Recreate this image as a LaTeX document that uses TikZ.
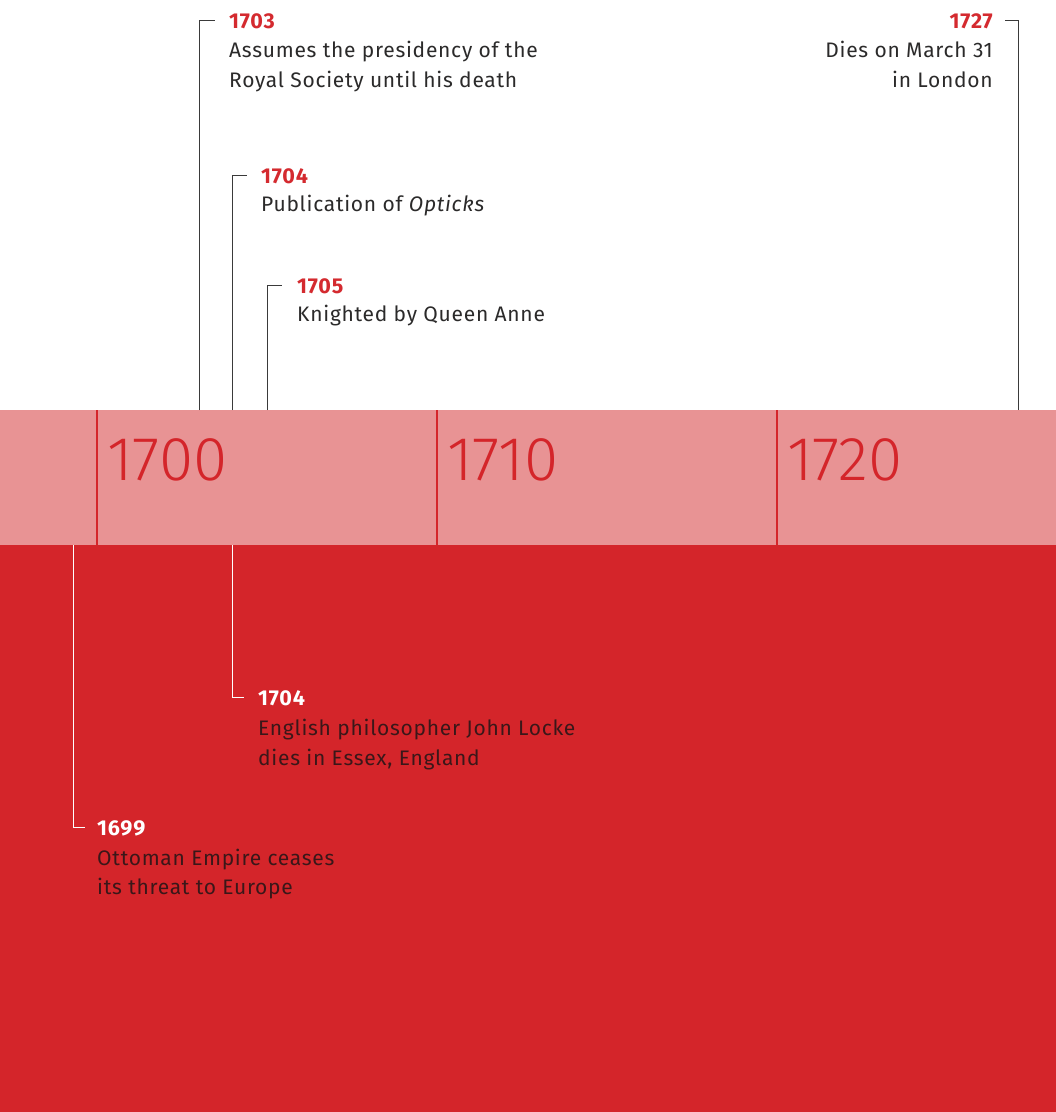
\documentclass[tikz,border=0pt]{standalone}
\usepackage{fontspec}
\setmainfont{Fira Sans}[LetterSpace=3.5]
\newfontfamily\lightfont{Fira Sans Light}
\definecolor{bandpink}{HTML}{E89394}
\definecolor{deepred}{HTML}{D4252A}
\definecolor{yearred}{HTML}{D42A2F}
\definecolor{linegray}{HTML}{3A3A3A}
\definecolor{bodygray}{HTML}{2B2A2A}
\definecolor{bodydark}{HTML}{3A1719}
\begin{document}
\begin{tikzpicture}[x=1pt,y=-1pt,
  conn/.style={draw=linegray,line width=1pt},
  wconn/.style={draw=white,line width=1pt},
  tick/.style={draw=deepred,line width=2pt},
  yr/.style={font=\fontsize{21.5}{24}\selectfont\bfseries,text=yearred,inner sep=0pt,anchor=base west},
  yrr/.style={yr,anchor=base east},
  wyr/.style={yr,text=white},
  body/.style={font=\fontsize{21}{24}\selectfont,text=bodygray,inner sep=0pt,anchor=base west},
  bodyr/.style={body,anchor=base east},
  wbody/.style={body,text=bodydark},
  big/.style={font=\lightfont\fontsize{62}{70}\selectfont,text=deepred,inner sep=0pt,anchor=base west}
]
\useasboundingbox (0,0) rectangle (1056,1112);
\fill[white] (0,0) rectangle (1056,410);
\fill[bandpink] (0,410) rectangle (1056,545);
\fill[deepred] (0,545) rectangle (1056,1112);

% decade ticks and labels
\coordinate (t0a) at (97,410);  \coordinate (t0b) at (97,545);
\coordinate (t1a) at (437,410); \coordinate (t1b) at (437,545);
\coordinate (t2a) at (777,410); \coordinate (t2b) at (777,545);
\draw[tick] (t0a) -- (t0b);
\draw[tick] (t1a) -- (t1b);
\draw[tick] (t2a) -- (t2b);
\node[big] (d1700) at (107,480) {1700};
\node[big] (d1710) at (447,480) {1710};
\node[big] (d1720) at (787,480) {1720};

% 1703
\coordinate (c1703) at (199,410);
\node[yr] (y1703) at (229,28) {1703};
\node[body] (a1703) at (229,57) {Assumes the presidency of the};
\node[body] (b1703) at (229,87) {Royal Society until his death};
\draw[conn] (c1703) |- ([xshift=-14pt]y1703.west);

% 1727
\coordinate (c1727) at (1018,410);
\node[yrr] (y1727) at (993,28) {1727};
\node[bodyr] (a1727) at (993,57) {Dies on March 31};
\node[bodyr] (b1727) at (993,87) {in London};
\draw[conn] (c1727) |- ([xshift=12pt]y1727.east);

% 1704 Opticks
\coordinate (c1704) at (232,410);
\node[yr] (y1704) at (261,183) {1704};
\node[body] (a1704) at (261,211) {Publication of \textit{Opticks}};
\draw[conn] (c1704) |- ([xshift=-14pt]y1704.west);

% 1705
\coordinate (c1705) at (267,410);
\node[yr] (y1705) at (297,293) {1705};
\node[body] (a1705) at (297,321) {Knighted by Queen Anne};
\draw[conn] (c1705) |- ([xshift=-15pt]y1705.west);

% 1704 Locke
\coordinate (c1704b) at (232,545);
\node[wyr] (y1704b) at (258,705) {1704};
\node[wbody] (a1704b) at (258,735) {English philosopher John Locke};
\node[wbody] (b1704b) at (258,765) {dies in Essex, England};
\draw[wconn] (c1704b) |- ([xshift=-14pt]y1704b.west);

% 1699
\coordinate (c1699) at (73,545);
\node[wyr] (y1699) at (97,835) {1699};
\node[wbody] (a1699) at (97,865) {Ottoman Empire ceases};
\node[wbody] (b1699) at (97,894) {its threat to Europe};
\draw[wconn] (c1699) |- ([xshift=-12pt]y1699.west);
\end{tikzpicture}
\end{document}
